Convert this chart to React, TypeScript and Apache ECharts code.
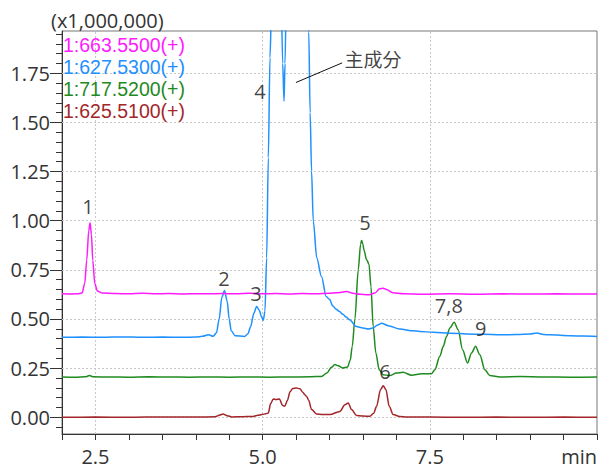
import React, { useEffect, useRef } from "react";
import * as echarts from "echarts";

const FONT = "'Open Sans', 'Noto Sans', sans-serif";
const LEGEND_FONT = "'Liberation Sans', Arial, sans-serif";
const CJK = "'Noto Sans CJK JP', 'Noto Sans CJK SC', sans-serif";

const traceNames = ["1:663.5500(+)", "1:627.5300(+)", "1:717.5200(+)", "1:625.5100(+)"];
const traceColors = ["#ff1aff", "#1e90ff", "#1f8a1f", "#a3262a"];

// time (min), intensity (x1,000,000)
const magenta: [number, number][] = [
  [2.0, 0.628], [2.15, 0.627], [2.25, 0.629], [2.3, 0.632], [2.34, 0.68], [2.37, 0.8], [2.4, 0.95],
  [2.42, 0.99], [2.44, 0.93], [2.46, 0.8], [2.49, 0.68], [2.53, 0.642], [2.6, 0.632], [2.8, 0.63],
  [3.0, 0.628], [3.2, 0.631], [3.4, 0.628], [3.6, 0.63], [3.8, 0.627], [4.0, 0.629], [4.2, 0.628],
  [4.4, 0.63], [4.6, 0.628], [4.8, 0.631], [5.0, 0.628], [5.2, 0.63], [5.4, 0.627], [5.6, 0.63],
  [5.8, 0.628], [6.0, 0.631], [6.1, 0.633], [6.26, 0.64], [6.35, 0.631], [6.45, 0.626], [6.58, 0.623],
  [6.68, 0.632], [6.75, 0.654], [6.8, 0.657], [6.86, 0.649], [6.95, 0.633], [7.1, 0.628], [7.4, 0.626],
  [7.8, 0.628], [8.2, 0.626], [8.6, 0.628], [9.0, 0.627], [9.4, 0.628], [9.8, 0.627], [10.0, 0.627],
];

const blue: [number, number][] = [
  [2.0, 0.407], [2.3, 0.408], [2.6, 0.407], [2.9, 0.409], [3.2, 0.407], [3.5, 0.408], [3.8, 0.407],
  [4.0, 0.408], [4.1, 0.412], [4.19, 0.42], [4.26, 0.412], [4.31, 0.43], [4.35, 0.5], [4.39, 0.61],
  [4.43, 0.645], [4.47, 0.59], [4.5, 0.5], [4.53, 0.44], [4.59, 0.415], [4.73, 0.411], [4.78, 0.425],
  [4.82, 0.46], [4.87, 0.53], [4.91, 0.564], [4.95, 0.545], [4.985, 0.51], [5.01, 0.493], [5.035, 0.54],
  [5.06, 0.81], [5.085, 1.32], [5.11, 1.83], [5.135, 2.1], [5.17, 2.5], [5.23, 2.6], [5.27, 2.3],
  [5.3, 1.8], [5.32, 1.608], [5.335, 1.8], [5.36, 2.3], [5.42, 2.7], [5.55, 2.8], [5.64, 2.5],
  [5.69, 1.96], [5.71, 1.55], [5.732, 1.25], [5.757, 1.0], [5.81, 0.81], [5.88, 0.716], [5.95, 0.615],
  [6.0, 0.6], [6.05, 0.566], [6.1, 0.55], [6.15, 0.538], [6.2, 0.524], [6.25, 0.51], [6.3, 0.496],
  [6.4, 0.462], [6.5, 0.454], [6.58, 0.449],
  [6.65, 0.454], [6.72, 0.47], [6.78, 0.478], [6.88, 0.466], [7.05, 0.449], [7.25, 0.44], [7.35, 0.437],
  [7.55, 0.432], [7.8, 0.428], [8.05, 0.424], [8.3, 0.422], [8.55, 0.42], [8.8, 0.421], [9.0, 0.424],
  [9.1, 0.429], [9.2, 0.421], [9.3, 0.42], [9.6, 0.415], [9.8, 0.413], [10.0, 0.411],
];

const green: [number, number][] = [
  [2.0, 0.205], [2.2, 0.204], [2.35, 0.206], [2.41, 0.212], [2.47, 0.206], [2.7, 0.205], [3.0, 0.204],
  [3.3, 0.206], [3.6, 0.205], [3.9, 0.204], [4.2, 0.205], [4.5, 0.204], [4.8, 0.205], [5.1, 0.204],
  [5.4, 0.205], [5.7, 0.206], [5.88, 0.208], [5.96, 0.225], [6.03, 0.255], [6.08, 0.268], [6.13, 0.262],
  [6.2, 0.251], [6.27, 0.256], [6.31, 0.29], [6.34, 0.36], [6.38, 0.5], [6.43, 0.75], [6.465, 0.88],
  [6.48, 0.899], [6.5, 0.88], [6.514, 0.852], [6.555, 0.801], [6.59, 0.78], [6.62, 0.665], [6.653, 0.462],
  [6.693, 0.327], [6.743, 0.242], [6.8, 0.217], [6.9, 0.212], [7.0, 0.225], [7.1, 0.229], [7.227, 0.214],
  [7.377, 0.222], [7.526, 0.222], [7.576, 0.242], [7.65, 0.31], [7.7, 0.36], [7.75, 0.411], [7.8, 0.454],
  [7.864, 0.483], [7.924, 0.445], [7.99, 0.344], [8.064, 0.276], [8.124, 0.327], [8.184, 0.361],
  [8.248, 0.318], [8.323, 0.242], [8.397, 0.212], [8.55, 0.205], [8.85, 0.207], [9.2, 0.205],
  [9.6, 0.204], [10.0, 0.205],
];

const red: [number, number][] = [
  [2.0, 0.0], [2.5, 0.001], [3.0, 0.0], [3.5, 0.002], [4.0, 0.001], [4.29, 0.003], [4.36, 0.012],
  [4.41, 0.017], [4.47, 0.008], [4.54, 0.002], [4.7, 0.003], [4.84, 0.004], [4.93, 0.01], [4.99, 0.014],
  [5.05, 0.018], [5.085, 0.022], [5.12, 0.07], [5.16, 0.093], [5.2, 0.09], [5.25, 0.093], [5.3, 0.06],
  [5.33, 0.056], [5.37, 0.085], [5.41, 0.13], [5.45, 0.147], [5.5, 0.149], [5.557, 0.145], [5.6, 0.128],
  [5.63, 0.115], [5.66, 0.105], [5.69, 0.085], [5.732, 0.039], [5.807, 0.017], [5.9, 0.014], [6.006, 0.014],
  [6.155, 0.03], [6.23, 0.064], [6.28, 0.073], [6.33, 0.039], [6.405, 0.009], [6.5, 0.006], [6.604, 0.005],
  [6.66, 0.02], [6.704, 0.056], [6.764, 0.141], [6.803, 0.161], [6.843, 0.141], [6.893, 0.056],
  [6.952, 0.014], [7.05, 0.004], [7.152, 0.002], [7.5, 0.001], [8.0, 0.0], [8.5, 0.001], [9.0, 0.0],
  [9.5, 0.001], [10.0, 0.0],
];

const yMajorTicks = [0, 0.25, 0.5, 0.75, 1.0, 1.25, 1.5, 1.75];
const yMinorTicks = [
  -0.05, 0, 0.05, 0.1, 0.15, 0.2, 0.25, 0.3, 0.35, 0.4, 0.45, 0.5, 0.55, 0.6, 0.65, 0.7, 0.75, 0.8, 0.85,
  0.9, 0.95, 1.0, 1.05, 1.1, 1.15, 1.2, 1.25, 1.3, 1.35, 1.4, 1.45, 1.5, 1.55, 1.6, 1.65, 1.7, 1.75, 1.8,
  1.85, 1.9, 1.95,
];
const xGridValues = [2.5, 5.0, 7.5];
const xLabelValues = [2.5, 5.0, 7.5];
const xUnitLabel = "min";
const yUnitLabel = "(x1,000,000)";

const peakLabels: { name: string; value: [number, number] }[] = [
  { name: "1", value: [2.389, 1.072] },
  { name: "2", value: [4.421, 0.704] },
  { name: "3", value: [4.9, 0.628] },
  { name: "4", value: [4.96, 1.656] },
  { name: "主成分", value: [6.649, 1.825] },
  { name: "5", value: [6.529, 0.989] },
  { name: "6", value: [6.828, 0.232] },
  { name: "7,8", value: [7.785, 0.57] },
  { name: "9", value: [8.263, 0.45] },
];
const leaderLine: [number, number][] = [
  [5.498, 1.703],
  [6.19, 1.803],
];

export default function App() {
  const ref = useRef<HTMLDivElement>(null);

  useEffect(() => {
    if (!ref.current) return;
    const chart = echarts.init(ref.current, null, { renderer: "svg" });
    const traces = [magenta, blue, green, red];
    const drawOrder = [3, 2, 1, 0];

    const option: any = {
      animation: false,
      backgroundColor: "#ffffff",
      textStyle: { fontFamily: FONT },
      grid: {
        left: 62,
        right: 6,
        top: 31,
        bottom: 36,
        show: true,
        borderColor: "#777",
        borderWidth: 1,
        backgroundColor: "transparent",
      },
      legend: {
        orient: "vertical",
        left: 58,
        top: 34,
        padding: 0,
        itemGap: 0,
        itemWidth: 0,
        itemHeight: 0,
        selectedMode: false,
        icon: "rect",
        itemStyle: { opacity: 0 },
        textStyle: { fontSize: 19.5, lineHeight: 22, height: 22, fontFamily: LEGEND_FONT },
        data: traceNames.map((n, i) => ({ name: n, textStyle: { color: traceColors[i] } })),
      },
      graphic: [
        {
          type: "text",
          left: 51,
          top: 10,
          style: { text: yUnitLabel, fontSize: 20, fontFamily: FONT, fill: "#333" },
        },
      ],
      xAxis: {
        type: "value",
        min: 2,
        max: 10,
        interval: 0.5,
        axisLine: { show: true, onZero: false, lineStyle: { color: "#333", width: 1 } },
        axisTick: { show: true, length: 6, lineStyle: { color: "#333" } },
        axisLabel: {
          margin: 12,
          fontSize: 20,
          lineHeight: 20,
          color: "#333",
          fontFamily: FONT,
          showMinLabel: true,
          showMaxLabel: true,
          alignMaxLabel: "right",
          formatter: (v: number) => {
            if (Math.abs(v - 10) < 1e-9) return xUnitLabel;
            return xLabelValues.some((t) => Math.abs(t - v) < 1e-9) ? v.toFixed(1) : "";
          },
        },
        splitLine: { show: false },
      },
      yAxis: [
        {
          type: "value",
          min: -0.085,
          max: 1.965,
          position: "left",
          axisLine: { show: true, onZero: false, lineStyle: { color: "#333", width: 1 } },
          axisTick: { show: true, length: 12, customValues: yMajorTicks, lineStyle: { color: "#333" } },
          axisLabel: {
            customValues: yMajorTicks,
            margin: 12,
            fontSize: 20,
            color: "#333",
            fontFamily: FONT,
            formatter: (v: number) => v.toFixed(2),
          },
          splitLine: { show: false },
        },
        {
          type: "value",
          min: -0.085,
          max: 1.965,
          position: "left",
          axisLine: { show: false },
          axisTick: { show: true, length: 6, customValues: yMinorTicks, lineStyle: { color: "#333" } },
          axisLabel: { show: false },
          splitLine: { show: false },
        },
      ],
      series: [
        ...drawOrder.map((i, k) => ({
          type: "line",
          name: traceNames[i],
          data: traces[i],
          xAxisIndex: 0,
          yAxisIndex: 0,
          symbol: "none",
          showSymbol: false,
          smooth: 0.3,
          smoothMonotone: "x",
          clip: true,
          silent: true,
          z: 2,
          color: traceColors[i],
          lineStyle: { color: traceColors[i], width: 1.5 },
          markLine:
            k === 0
              ? {
                  silent: true,
                  symbol: ["none", "none"],
                  z: 1,
                  label: { show: false },
                  lineStyle: { color: "#c8c8c8", type: [2, 2], width: 1 },
                  data: [
                    ...yMajorTicks.map((v) => ({ yAxis: v })),
                    ...xGridValues.map((v) => ({ xAxis: v })),
                  ],
                }
              : undefined,
        })),
        {
          type: "line",
          name: "leader",
          data: leaderLine,
          symbol: "none",
          showSymbol: false,
          silent: true,
          z: 5,
          lineStyle: { color: "#111", width: 1 },
        },
        {
          type: "scatter",
          name: "labels",
          silent: true,
          z: 6,
          symbolSize: 1,
          itemStyle: { color: "rgba(0,0,0,0)" },
          data: peakLabels.map((p) => ({
            name: p.name,
            value: p.value,
            label: /[\u4e00-\u9fff]/.test(p.name) ? { fontFamily: CJK, fontSize: 19 } : undefined,
          })),
          label: {
            show: true,
            position: "inside",
            formatter: "{b}",
            color: "#111",
            fontSize: 20,
            fontFamily: FONT,
          },
        },
      ],
    };

    chart.setOption(option);
    return () => chart.dispose();
  }, []);

  return (
    <div
      ref={ref}
      style={{ position: "absolute", left: 0, top: 0, width: 603, height: 470 }}
    />
  );
}
